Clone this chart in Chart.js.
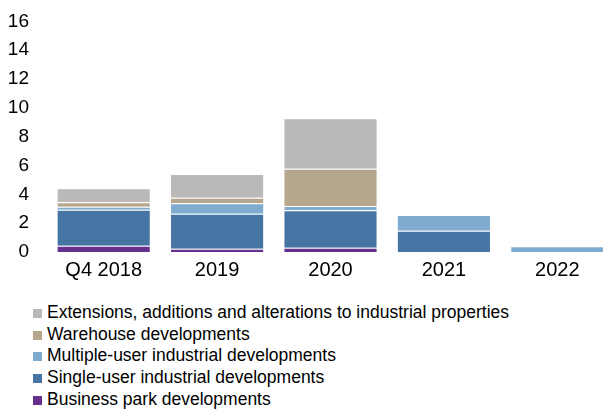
<!DOCTYPE html>
<html>
<head>
<meta charset="utf-8">
<script src="https://cdn.jsdelivr.net/npm/chart.js@4.4.0/dist/chart.umd.min.js"></script>
<style>
  html, body { margin: 0; padding: 0; background: #fff; overflow: hidden; }
  #wrap { position: relative; width: 614px; height: 296px; margin-top: -8px; }
  #legend { position: absolute; left: 33px; top: 302px; font-family: "Liberation Sans", Arial, sans-serif; font-size: 17.5px; color: #000; }
  .item { height: 21.7px; line-height: 21.7px; white-space: nowrap; }
  .box { display: inline-block; width: 9px; height: 9px; margin-right: 5px; vertical-align: 0px; }
</style>
</head>
<body>
<div id="wrap"><canvas id="chart"></canvas></div>
<div id="legend"></div>
<script>
"use strict"

// categories and values
const categories = ['Q4 2018', '2019', '2020', '2021', '2022'];
const businessPark = [0.44, 0.23, 0.30, 0, 0];
const singleUser = [2.50, 2.43, 2.60, 1.48, 0];
const multipleUser = [0.20, 0.72, 0.29, 1.09, 0.40];
const warehouse = [0.32, 0.39, 2.59, 0, 0];
const extensions = [0.97, 1.65, 3.50, 0, 0];
const yTicks = [0, 2, 4, 6, 8, 10, 12, 14, 16];

const series = [
    { label: 'Business park developments', data: businessPark, color: '#66308f' },
    { label: 'Single-user industrial developments', data: singleUser, color: '#4775a3' },
    { label: 'Multiple-user industrial developments', data: multipleUser, color: '#7fabce' },
    { label: 'Warehouse developments', data: warehouse, color: '#b5a68d' },
    { label: 'Extensions, additions and alterations to industrial properties', data: extensions, color: '#bab9b7' },
];

const FONT = "'Liberation Sans', Arial, sans-serif";

const chart = new Chart(document.getElementById('chart'), {
    type: 'bar',
    data: {
        labels: categories,
        datasets: series.map(s => ({
            label: s.label,
            data: s.data,
            backgroundColor: s.color,
            borderColor: 'rgba(255,255,255,0.35)',
            borderWidth: 1,
            barPercentage: 0.83,
            categoryPercentage: 1,
        }))
    },
    options: {
        responsive: true,
        maintainAspectRatio: false,
        animation: false,
        layout: { padding: { top: 2, right: 0, left: 0, bottom: 0 } },
        plugins: {
            legend: { display: false },
            tooltip: { enabled: false },
        },
        scales: {
            x: {
                stacked: true,
                grid: { display: false, drawTicks: false },
                border: { display: false },
                ticks: { color: '#000', font: { family: FONT, size: 20 }, padding: 6 },
            },
            y: {
                stacked: true,
                min: 0,
                max: 16,
                afterBuildTicks: (scale) => { scale.ticks = yTicks.map(v => ({ value: v })); },
                afterFit: (scale) => { scale.width = 47; },
                grid: { display: false, drawTicks: false },
                border: { display: false },
                ticks: { color: '#000', font: { family: FONT, size: 19 }, padding: 18 },
            }
        }
    }
});

// legend, top to bottom in reverse stack order
const legend = document.getElementById('legend');
series.slice().reverse().forEach(s => {
    const row = document.createElement('div');
    row.className = 'item';
    const box = document.createElement('span');
    box.className = 'box';
    box.style.background = s.color;
    row.appendChild(box);
    row.appendChild(document.createTextNode(s.label));
    legend.appendChild(row);
});
</script>
</body>
</html>
